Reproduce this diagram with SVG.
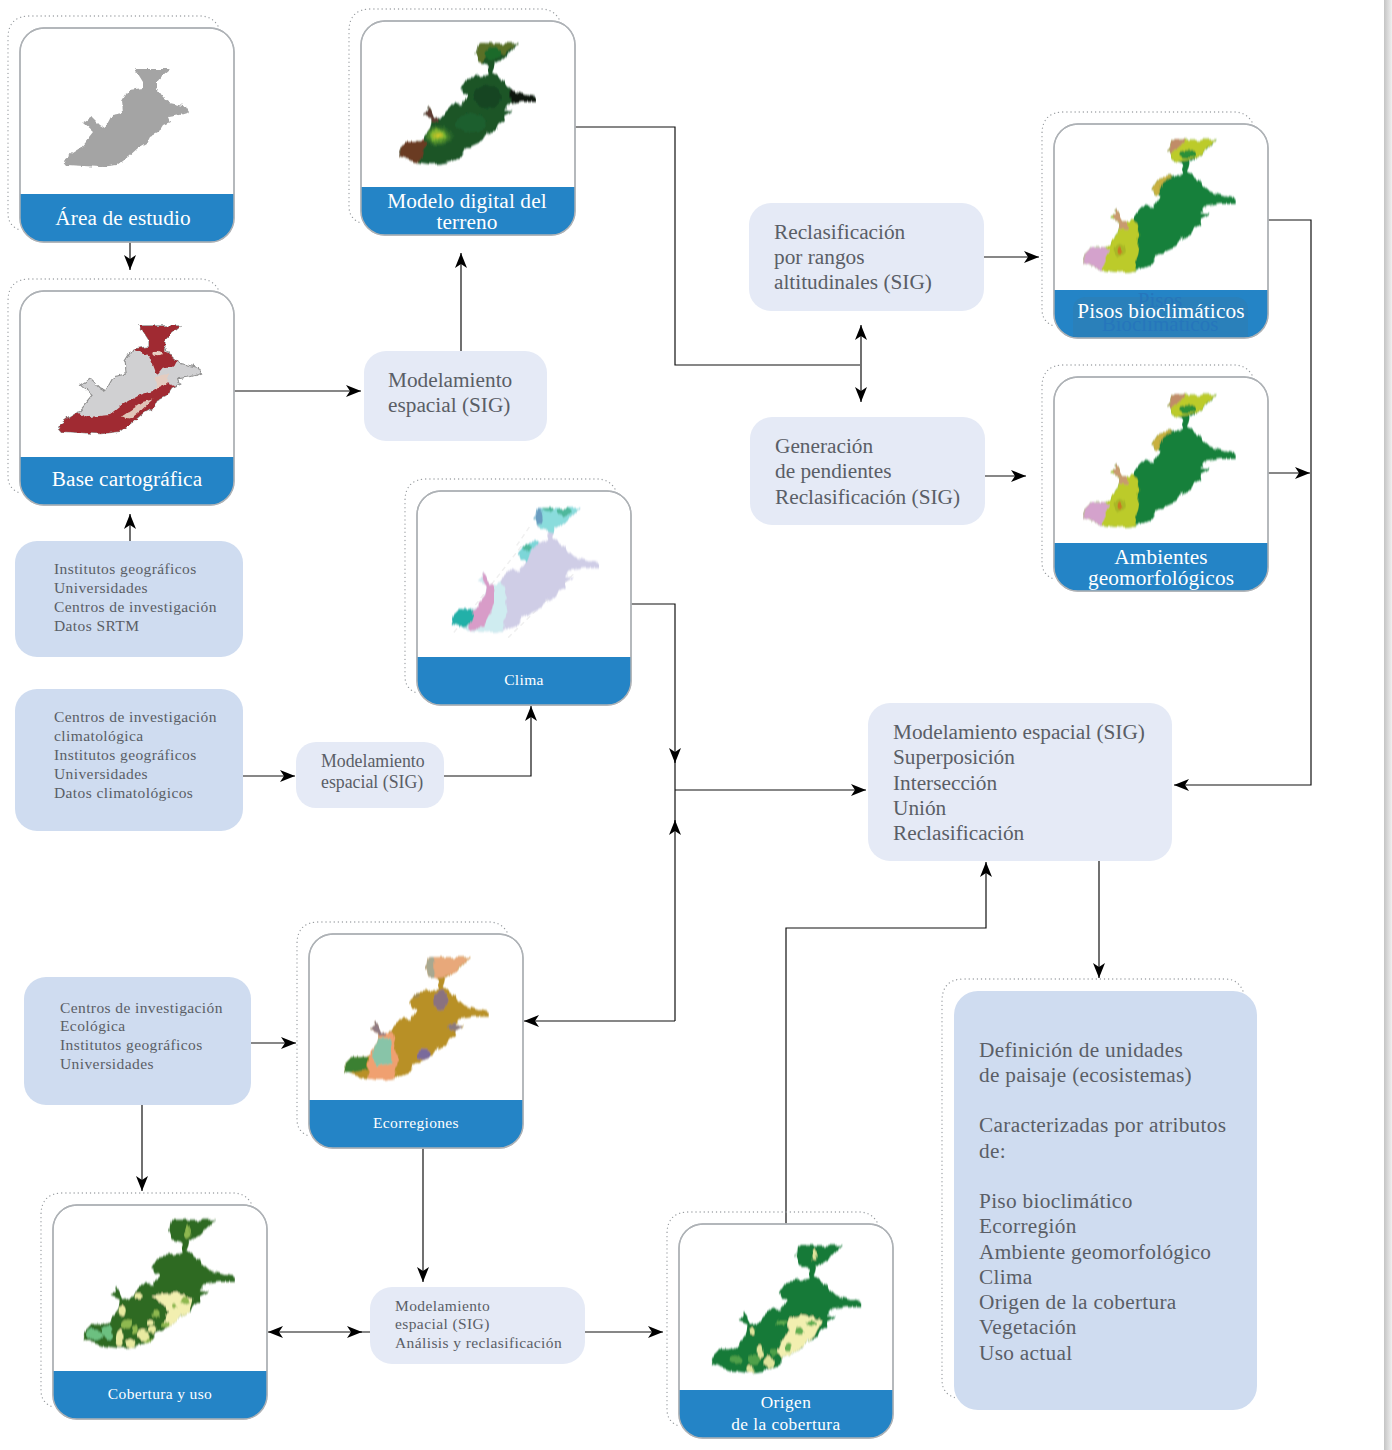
<svg xmlns="http://www.w3.org/2000/svg" width="1392" height="1450" viewBox="0 0 1392 1450">
<style>
text{font-family:"Liberation Serif","DejaVu Serif",serif}
.card{fill:#fff;stroke:#aeb2b6;stroke-width:1.4}
.band{fill:#2484c6}
.edge{fill:none;stroke:#aeb2b6;stroke-width:1.4}
.dot{fill:none;stroke:#999da1;stroke-width:1.3;stroke-dasharray:.1 4;stroke-linecap:round}
.lt{fill:#e5eaf6}.dk{fill:#cfdcf0}
.w{fill:#fff;text-anchor:middle}
.w21{font-size:21.3px;letter-spacing:.12px}.w15{font-size:15.5px;letter-spacing:.35px}.w17{font-size:17.3px;letter-spacing:.45px}
.g{fill:#5a5e66}
.g21{font-size:21.3px}.g21b{font-size:21.3px;letter-spacing:.3px}.g15{font-size:15.5px;letter-spacing:.4px}.g18{font-size:17.8px}
.ghost{font-size:21px;fill:#2676bc;text-anchor:middle}
.c{fill:none;stroke:#111;stroke-width:1.2}
.ca{marker-end:url(#ah)}
</style>
<defs>
<marker id="ah" markerUnits="userSpaceOnUse" markerWidth="18" markerHeight="14" refX="15" refY="6.5" orient="auto-start-reverse"><path d="M0,0.5 L15,6.5 L0,12.5 L4,6.5 Z" fill="#000"/></marker>
<linearGradient id="edgeg" x1="0" x2="1" y1="0" y2="0"><stop offset="0" stop-color="#c4c4c4"/><stop offset="1" stop-color="#f0f0f0"/></linearGradient>
<radialGradient id="hot"><stop offset="0" stop-color="#d8c828"/><stop offset=".45" stop-color="#70b030"/><stop offset="1" stop-color="#2a6a28" stop-opacity="0"/></radialGradient>
<filter id="soft" x="-8%" y="-8%" width="116%" height="116%"><feTurbulence type="fractalNoise" baseFrequency=".16" numOctaves="2" seed="4" result="n"/><feDisplacementMap in="SourceGraphic" in2="n" scale="5" xChannelSelector="R" yChannelSelector="G"/><feGaussianBlur stdDeviation=".65"/></filter>
<path id="sa" d="M135,69 L170,69 L163,75 L157,82 L157,88 L163,97 L170,103 L187,107 L190,112 L180,115 L168,117 L170,122 L163,125 L158,133 L150,137 L147,143 L138,148 L128,157 L118,165 L100,167 L67,165 L63,160 L72,153 L80,148 L85,142 L93,132 L83,123 L92,117 L100,125 L105,128 L112,115 L123,113 L122,100 L128,90 L143,88 L143,82 Z"/>
<path id="sb" d="M138,69 L173,69 L165,77 L160,81 L152,85 L149,92 L154,96 L160,100 L168,107 L182,111 L190,112 L190,116 L176,116 L163,118 L160,122 L168,123 L160,127 L161,131 L156,134 L152,139 L143,142 L141,147 L131,151 L123,155 L119,161 L111,164 L94,166 L79,164 L63,159 L66,153 L71,148 L79,148 L86,145 L93,136 L94,130 L86,127 L92,120 L97,129 L105,127 L112,118 L123,118 L126,110 L120,106 L126,97 L141,95 L146,94 L145,86 L137,84 L134,77 Z"/>
<clipPath id="ca"><use href="#sa"/></clipPath>
<clipPath id="cb"><use href="#sb"/></clipPath>
<path id="dots" d="M198,-2 Q192,-12 180,-12 L10,-12 Q-12,-12 -12,10 L-12,185 Q-12,198 0,202"/>
<path id="cardr" d="M24,0 H190 A24,24 0 0 1 214,24 V190 A24,24 0 0 1 190,214 H24 A24,24 0 0 1 0,190 V24 A24,24 0 0 1 24,0 Z"/>
<path id="bandr" d="M0,166 H214 V190 A24,24 0 0 1 190,214 H24 A24,24 0 0 1 0,190 Z"/>
<g id="pisosmap" clip-path="url(#cb)">
<rect x="60" y="60" width="135" height="110" fill="#15803a"/>
<path d="M60,125 L86,120 L100,122 L106,127 L110,137 L109,150 L106,170 H60 Z" fill="#bccb2a"/>
<path d="M60,145 L78,146 L86,150 L82,157 L78,170 H60 Z" fill="#d4a2cc"/>
<ellipse cx="94" cy="150" rx="5" ry="5" fill="#a8b828"/>
<ellipse cx="94" cy="150" rx="2.5" ry="3" fill="#c87a20"/>
<path d="M84,118 H98 L101,135 L92,134 Z" fill="#c89a70"/>
<path d="M118,107 L126,95 L142,93 L130,100 L124,110 Z" fill="#c8b040"/>
<path d="M130,66 H176 L160,81 L150,84 L136,86 Z" fill="#bccb2a"/>
<path d="M130,66 H150 L146,72 L134,80 Z" fill="#c08c68"/>
<ellipse cx="150" cy="80" rx="7" ry="2.5" fill="#2a9038"/>
</g>
</defs>
<rect x="1384" y="0" width="8" height="1450" fill="url(#edgeg)"/>

<g id="connectors">
<path class="c ca" d="M130,242 V270"/>
<path class="c ca" d="M130,541 V514"/>
<path class="c ca" d="M234,391 H361"/>
<path class="c ca" d="M461,351 V253"/>
<path class="c" d="M574,127 H675 V365 H860"/>
<path class="c ca" d="M861,365 V325"/>
<path class="c ca" d="M861,365 V402"/>
<path class="c ca" d="M984,257 H1039"/>
<path class="c ca" d="M985,476 H1026"/>
<path class="c ca" d="M1268,220 H1311 V785 H1174"/>
<path class="c ca" d="M1268,473 H1310"/>
<path class="c ca" d="M243,776 H295"/>
<path class="c ca" d="M444,776 H531 V706"/>
<path class="c" d="M631,604 H675 V1021"/>
<path class="c ca" d="M675,761 V763"/>
<path class="c ca" d="M675,790 H866"/>
<path class="c ca" d="M675,822 V820"/>
<path class="c ca" d="M675,1021 H524"/>
<path class="c ca" d="M251,1043 H296"/>
<path class="c ca" d="M142,1105 V1191"/>
<path class="c ca" d="M423,1148 V1282"/>
<path class="c" d="M268,1332 H370" marker-start="url(#ah)"/>
<path class="c ca" d="M360,1332 H362"/>
<path class="c ca" d="M585,1332 H663"/>
<path class="c ca" d="M786,1224 V928 H986 V862"/>
<path class="c ca" d="M1099,861 V978"/>
</g>

<g id="area-estudio" transform="translate(20,28)">
<use href="#dots" class="dot"/><use href="#cardr" class="card"/><use href="#bandr" class="band"/><use href="#cardr" class="edge"/>
<g transform="translate(-20,-28)" filter="url(#soft)"><use href="#sa" fill="#a4a4a4"/></g>
<text class="w w21" x="103" y="197">Área de estudio</text>
</g>

<g id="modelo-digital" transform="translate(361,21)">
<use href="#dots" class="dot"/><use href="#cardr" class="card"/><use href="#bandr" class="band"/><use href="#cardr" class="edge"/>
<g transform="translate(-361,-21) matrix(1.094 0 0 1.25 329 -43)" filter="url(#soft)"><g clip-path="url(#cb)">
<rect x="60" y="60" width="135" height="110" fill="#1a5428"/>
<path d="M60,148 L84,143 L90,150 L78,170 H60 Z" fill="#6a3a22"/>
<rect x="84" y="118" width="16" height="14" fill="#5e3a30"/>
<rect x="166" y="104" width="30" height="16" fill="#0a140c"/>
<ellipse cx="100" cy="143" rx="15" ry="9" fill="url(#hot)"/>
<path d="M130,66 H176 L160,78 L150,72 L140,84 H130 Z" fill="#5a7028"/>
<ellipse cx="150" cy="77" rx="7" ry="5" fill="#1e6a2c"/>
<ellipse cx="130" cy="133" rx="14" ry="8" fill="#1e6230" opacity=".7"/>
<ellipse cx="145" cy="112" rx="12" ry="9" fill="#123f20" opacity=".7"/>
</g></g>
<text class="w w21" x="106" y="187">Modelo digital del</text>
<text class="w w21" x="106" y="208">terreno</text>
</g>

<g id="pisos" transform="translate(1054,124)">
<use href="#dots" class="dot"/><use href="#cardr" class="card"/><use href="#bandr" class="band"/><use href="#cardr" class="edge"/>
<g transform="translate(-1054,-124) matrix(1.22 0 0 1.37 1005 45)" filter="url(#soft)"><use href="#pisosmap"/></g>
<path d="M31,173 H182 A12,12 0 0 1 194,185 V213 H19 V185 A12,12 0 0 1 31,173 Z" fill="#2a80ba"/>
<text class="ghost" x="106" y="183">Pisos</text>
<text class="ghost" x="106" y="207">Bioclimáticos</text>
<text class="w w21" x="107" y="194">Pisos bioclimáticos</text>
</g>

<g id="ambientes" transform="translate(1054,377)">
<use href="#dots" class="dot"/><use href="#cardr" class="card"/><use href="#bandr" class="band"/><use href="#cardr" class="edge"/>
<g transform="translate(-1054,-377) matrix(1.22 0 0 1.37 1005 300)" filter="url(#soft)"><use href="#pisosmap"/></g>
<text class="w w21" x="107" y="187">Ambientes</text>
<text class="w w21" x="107" y="208">geomorfológicos</text>
</g>

<g id="base-cartografica" transform="translate(20,291)">
<use href="#dots" class="dot"/><use href="#cardr" class="card"/><use href="#bandr" class="band"/><use href="#cardr" class="edge"/>
<g transform="translate(-20,-291) matrix(1.14 0 0 1.1 -14 250)" filter="url(#soft)">
<use href="#sa" fill="#d0d0d2" stroke="#909090" stroke-width="1"/>
<g clip-path="url(#ca)">
<path d="M130,64 H175 L160,84 L157,92 L168,100 L165,106 L155,108 L150,114 L146,103 L143,96 L126,90 L143,88 Z" fill="#a02a30"/>
<path d="M58,148 L76,146 L88,152 L108,150 L120,140 L132,133 L146,128 L158,120 L168,124 L160,134 L140,150 L120,170 H58 Z" fill="#a02a30"/>
<path d="M118,152 L138,138 L146,136 L136,146 L126,154 Z" fill="#e0c4b8"/>
<path d="M148,116 L160,112 L158,122 L150,126 Z" fill="#e4ccc0"/>
<ellipse cx="150" cy="94" rx="4" ry="2.5" fill="#e8d0c4"/>
</g></g>
<text class="w w21" x="107" y="195">Base cartográfica</text>
</g>

<g id="clima" transform="translate(417,491)">
<use href="#dots" class="dot"/><use href="#cardr" class="card"/><use href="#bandr" class="band"/><use href="#cardr" class="edge"/>
<g transform="translate(-417,-491) matrix(1.18 0 0 1.286 376 419)">
<path d="M66,166 L124,98 M112,170 L168,120 M130,84 L118,100" fill="none" stroke="#f0f0f0" stroke-width="1.2" stroke-dasharray="4 3"/>
<g filter="url(#soft)"><g clip-path="url(#cb)">
<rect x="60" y="60" width="135" height="110" fill="#cfcde6"/>
<path d="M60,120 H104 L110,136 L111,150 L106,170 H60 Z" fill="#cfecf0"/>
<path d="M82,116 H98 L100,130 L100,143 L97,152 L90,162 L80,164 L76,154 L84,146 L93,136 L92,128 Z" fill="#d89cc8"/>
<path d="M60,148 L80,147 L84,154 L76,162 L64,163 Z" fill="#22b0a8"/>
<path d="M130,66 H176 L160,82 L150,88 L140,86 L132,78 Z" fill="#8adcdc"/>
<path d="M118,106 L126,95 L141,93 L132,102 L126,112 Z" fill="#7cd6d8"/>
<ellipse cx="138" cy="76" rx="4" ry="6" fill="#6a9cc0"/>
<ellipse cx="160" cy="72" rx="6" ry="3" fill="#50b89c"/>
<ellipse cx="128" cy="100" rx="4" ry="3" fill="#50b89c"/>
<ellipse cx="146" cy="70" rx="5" ry="2.5" fill="#50b89c"/>
</g></g></g>
<text class="w w15" x="107" y="194">Clima</text>
</g>

<g id="ecorregiones" transform="translate(309,934)">
<use href="#dots" class="dot"/><use href="#cardr" class="card"/><use href="#bandr" class="band"/><use href="#cardr" class="edge"/>
<g transform="translate(-309,-934) matrix(1.157 0 0 1.265 270 870)" filter="url(#soft)"><g clip-path="url(#cb)">
<rect x="60" y="60" width="135" height="110" fill="#b89028"/>
<path d="M86,128 H106 L111,150 L106,170 H84 Z" fill="#f0a070"/>
<path d="M92,133 H104 L105,152 L92,156 L88,148 Z" fill="#88c4a8"/>
<path d="M60,148 L84,147 L84,158 L62,162 Z" fill="#3a8030"/>
<rect x="84" y="117" width="16" height="14" fill="#8f7a82"/>
<path d="M130,66 H176 L160,81 L150,85 L136,86 Z" fill="#e8a87a"/>
<path d="M130,66 H142 L142,86 H130 Z" fill="#a8a890"/>
<ellipse cx="147" cy="103" rx="6" ry="8" fill="#8a7280"/>
<ellipse cx="133" cy="146" rx="6" ry="4" fill="#7a6a9c"/>
<ellipse cx="160" cy="124" rx="6" ry="3" fill="#8a7a80"/>
<ellipse cx="125" cy="98" rx="5" ry="3" fill="#a08a50"/>
</g></g>
<text class="w w15" x="107" y="194">Ecorregiones</text>
</g>

<g id="cobertura" transform="translate(53,1205)">
<use href="#dots" class="dot"/><use href="#cardr" class="card"/><use href="#bandr" class="band"/><use href="#cardr" class="edge"/>
<g transform="translate(-53,-1205) matrix(1.21 0 0 1.327 6 1128)" filter="url(#soft)"><g clip-path="url(#cb)">
<rect x="60" y="60" width="135" height="110" fill="#2f6a24"/>
<path d="M120,126 L142,124 L154,128 L152,138 L142,150 L130,150 L134,138 L128,131 Z" fill="#f2efb0"/>
<g fill="#8eb850"><ellipse cx="148" cy="130" rx="4" ry="3"/><ellipse cx="132" cy="148" rx="3" ry="2"/><ellipse cx="124" cy="140" rx="3" ry="3"/><ellipse cx="140" cy="134" rx="2" ry="2"/><ellipse cx="150" cy="78" rx="2" ry="5"/></g>
<g fill="#e8eaa0"><ellipse cx="96" cy="138" rx="3" ry="4"/><ellipse cx="113" cy="156" rx="5" ry="4"/><ellipse cx="94" cy="158" rx="4" ry="7"/><ellipse cx="103" cy="162" rx="4" ry="3"/><ellipse cx="121" cy="152" rx="4" ry="3"/><ellipse cx="110" cy="127" rx="3" ry="2"/><ellipse cx="119" cy="146" rx="3" ry="2"/></g>
<g fill="#8eb850"><ellipse cx="100" cy="148" rx="4" ry="3"/><ellipse cx="118" cy="160" rx="4" ry="2"/><ellipse cx="106" cy="152" rx="2" ry="3"/></g>
<g fill="#6cc080"><ellipse cx="73" cy="156" rx="7" ry="4"/><ellipse cx="84" cy="154" rx="4" ry="6"/></g>
</g></g>
<text class="w w15" x="107" y="194">Cobertura y uso</text>
</g>

<g id="origen" transform="translate(679,1224)">
<use href="#dots" class="dot"/><use href="#cardr" class="card"/><use href="#bandr" class="band"/><use href="#cardr" class="edge"/>
<g transform="translate(-679,-1224) matrix(1.197 0 0 1.316 635 1154.5)" filter="url(#soft)"><g clip-path="url(#cb)">
<rect x="60" y="60" width="135" height="110" fill="#187a38"/>
<path d="M128,124 L142,122 L156,126 L150,138 L138,148 L124,156 L118,150 L128,134 Z" fill="#f2efb0"/>
<g fill="#5fae50"><ellipse cx="138" cy="134" rx="4" ry="3"/><ellipse cx="148" cy="128" rx="5" ry="2.5"/><ellipse cx="128" cy="146" rx="3" ry="3"/><ellipse cx="122" cy="128" rx="5" ry="2"/></g>
<g fill="#e0e49c"><ellipse cx="112" cy="158" rx="4" ry="5"/><ellipse cx="96" cy="163" rx="3" ry="3"/><ellipse cx="104" cy="150" rx="2.5" ry="5"/><ellipse cx="98" cy="135" rx="2" ry="3"/><ellipse cx="150" cy="76" rx="2" ry="4"/></g>
<g fill="#4fa048"><ellipse cx="100" cy="156" rx="5" ry="4"/><ellipse cx="84" cy="156" rx="5" ry="3"/><ellipse cx="116" cy="150" rx="3" ry="3"/></g>
</g></g>
<text class="w w17" x="107" y="184">Origen</text>
<text class="w w17" x="107" y="206">de la cobertura</text>
</g>

<g id="reclasificacion"><rect class="lt" x="749" y="203" width="235" height="108" rx="22"/>
<text class="g g21" x="774" y="239">Reclasificación</text><text class="g g21" x="774" y="264">por rangos</text><text class="g g21" x="774" y="289">altitudinales (SIG)</text></g>
<g id="generacion"><rect class="lt" x="750" y="417" width="235" height="108" rx="22"/>
<text class="g g21" x="775" y="453">Generación</text><text class="g g21" x="775" y="478">de pendientes</text><text class="g g21" x="775" y="504">Reclasificación (SIG)</text></g>
<g id="modelamiento-1"><rect class="lt" x="364" y="351" width="183" height="90" rx="22"/>
<text class="g g21" x="388" y="387">Modelamiento</text><text class="g g21" x="388" y="412">espacial (SIG)</text></g>
<g id="fuentes-base"><rect class="dk" x="15" y="541" width="228" height="116" rx="22"/>
<text class="g g15" x="54" y="574">Institutos geográficos</text><text class="g g15" x="54" y="593">Universidades</text><text class="g g15" x="54" y="612">Centros de investigación</text><text class="g g15" x="54" y="631">Datos SRTM</text></g>
<g id="fuentes-clima"><rect class="dk" x="15" y="689" width="228" height="142" rx="22"/>
<text class="g g15" x="54" y="722">Centros de investigación</text><text class="g g15" x="54" y="741">climatológica</text><text class="g g15" x="54" y="760">Institutos geográficos</text><text class="g g15" x="54" y="779">Universidades</text><text class="g g15" x="54" y="798">Datos climatológicos</text></g>
<g id="modelamiento-2"><rect class="lt" x="296" y="742" width="148" height="66" rx="20"/>
<text class="g g18" x="321" y="767">Modelamiento</text><text class="g g18" x="321" y="788">espacial (SIG)</text></g>
<g id="modelamiento-3"><rect class="lt" x="868" y="703" width="304" height="158" rx="22"/>
<text class="g g21" x="893" y="739">Modelamiento espacial (SIG)</text><text class="g g21" x="893" y="764">Superposición</text><text class="g g21" x="893" y="790">Intersección</text><text class="g g21" x="893" y="815">Unión</text><text class="g g21" x="893" y="840">Reclasificación</text></g>
<g id="fuentes-eco"><rect class="dk" x="24" y="977" width="227" height="128" rx="22"/>
<text class="g g15" x="60" y="1013">Centros de investigación</text><text class="g g15" x="60" y="1031">Ecológica</text><text class="g g15" x="60" y="1050">Institutos geográficos</text><text class="g g15" x="60" y="1069">Universidades</text></g>
<g id="modelamiento-4"><rect class="lt" x="370" y="1287" width="215" height="77" rx="22"/>
<text class="g g15" x="395" y="1311">Modelamiento</text><text class="g g15" x="395" y="1329">espacial (SIG)</text><text class="g g15" x="395" y="1348">Análisis y reclasificación</text></g>
<g id="definicion">
<path class="dot" d="M1243,991 Q1238,979 1225,979 H964 Q942,979 942,1001 V1380 Q942,1394 956,1398"/>
<rect class="dk" x="954" y="991" width="303" height="419" rx="24"/>
<text class="g g21b" x="979" y="1057">Definición de unidades</text><text class="g g21b" x="979" y="1082">de paisaje (ecosistemas)</text><text class="g g21b" x="979" y="1132">Caracterizadas por atributos</text><text class="g g21b" x="979" y="1158">de:</text><text class="g g21b" x="979" y="1208">Piso bioclimático</text><text class="g g21b" x="979" y="1233">Ecorregión</text><text class="g g21b" x="979" y="1259">Ambiente geomorfológico</text><text class="g g21b" x="979" y="1284">Clima</text><text class="g g21b" x="979" y="1309">Origen de la cobertura</text><text class="g g21b" x="979" y="1334">Vegetación</text><text class="g g21b" x="979" y="1360">Uso actual</text>
</g>
</svg>
